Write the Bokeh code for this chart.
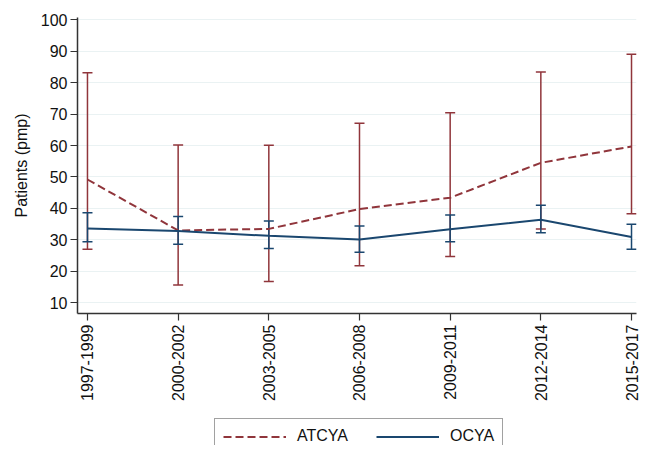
import math
from bokeh.plotting import figure
from bokeh.layouts import column
from bokeh.models import (ColumnDataSource, Whisker, TeeHead, Legend, LegendItem,
                          FixedTicker, Range1d)
from bokeh.embed import file_html
from bokeh.resources import INLINE

categories = ["1997-1999", "2000-2002", "2003-2005", "2006-2008",
              "2009-2011", "2012-2014", "2015-2017"]
atcya_mean = [49.2, 33.0, 33.5, 39.8, 43.4, 54.5, 59.7]
atcya_lower = [27.0, 15.7, 16.8, 21.8, 24.7, 33.5, 38.3]
atcya_upper = [83.1, 60.2, 60.1, 67.1, 70.4, 83.4, 89.0]
ocya_mean = [33.6, 32.8, 31.3, 30.1, 33.4, 36.4, 30.9]
ocya_lower = [29.4, 28.6, 27.3, 26.1, 29.4, 32.3, 27.0]
ocya_upper = [38.6, 37.4, 36.0, 34.4, 37.9, 41.0, 35.0]
y_ticks = [10, 20, 30, 40, 50, 60, 70, 80, 90, 100]
series_names = ["ATCYA", "OCYA"]

MAROON = "#90353b"
NAVY = "#1a476f"
AXIS = "#333333"
FONT = "Liberation Sans"

xs = list(range(len(categories)))
src_a = ColumnDataSource(dict(x=xs, m=atcya_mean, lo=atcya_lower, up=atcya_upper))
src_o = ColumnDataSource(dict(x=xs, m=ocya_mean, lo=ocya_lower, up=ocya_upper))

p = figure(width=641, height=415, output_backend="svg", toolbar_location=None,
           x_range=Range1d(-0.11, 6.055), y_range=Range1d(6.6, 100.7),
           min_border_left=77, min_border_right=5, min_border_top=17,
           min_border_bottom=102)
p.outline_line_color = None
p.background_fill_color = "white"
p.border_fill_color = "white"

# grid
p.xgrid.grid_line_color = None
p.ygrid.grid_line_color = "#eaf2f3"
p.ygrid.grid_line_width = 1.2

# axes
p.xaxis.ticker = FixedTicker(ticks=xs)
p.xaxis.major_label_overrides = {i: c for i, c in enumerate(categories)}
p.xaxis.major_label_orientation = math.pi / 2
p.yaxis.ticker = FixedTicker(ticks=y_ticks)
p.yaxis.axis_label = "Patients (pmp)"
for ax in (p.xaxis, p.yaxis):
    ax.axis_line_color = AXIS
    ax.axis_line_width = 1.5
    ax.major_tick_line_color = AXIS
    ax.major_tick_line_width = 1.2
    ax.major_tick_in = 0
    ax.major_tick_out = 7
    ax.minor_tick_line_color = None
    ax.major_label_text_font = FONT
    ax.major_label_text_font_size = "16px"
    ax.major_label_text_color = "#111111"
    ax.major_label_standoff = 4
p.yaxis.major_label_standoff = 3
p.yaxis.axis_label_text_font = FONT
p.yaxis.axis_label_text_font_size = "16px"
p.yaxis.axis_label_text_font_style = "normal"
p.yaxis.axis_label_text_color = "#111111"
p.yaxis.axis_label_standoff = 8

# ATCYA
p.line("x", "m", source=src_a, line_color=MAROON, line_width=2, line_dash="8 4")
p.add_layout(Whisker(source=src_a, base="x", lower="lo", upper="up",
                     line_color=MAROON, line_width=1.5,
                     upper_head=TeeHead(size=10, line_color=MAROON, line_width=1.5),
                     lower_head=TeeHead(size=10, line_color=MAROON, line_width=1.5)))
# OCYA
p.line("x", "m", source=src_o, line_color=NAVY, line_width=2)
p.add_layout(Whisker(source=src_o, base="x", lower="lo", upper="up",
                     line_color=NAVY, line_width=1.5,
                     upper_head=TeeHead(size=10, line_color=NAVY, line_width=1.5),
                     lower_head=TeeHead(size=10, line_color=NAVY, line_width=1.5)))

# legend strip below the chart (proxy lines lie outside its visible range)
lg = figure(width=641, height=30, output_backend="svg", toolbar_location=None,
            x_axis_type=None, y_axis_type=None,
            x_range=Range1d(0, 1), y_range=Range1d(0, 1),
            min_border_left=0, min_border_right=0, min_border_top=0,
            min_border_bottom=0)
lg.outline_line_color = None
lg.grid.visible = False
la = lg.line(x=xs, y=atcya_mean, line_color=MAROON, line_width=2, line_dash="8 4")
lo = lg.line(x=xs, y=ocya_mean, line_color=NAVY, line_width=2)
legend = Legend(items=[LegendItem(label=series_names[0], renderers=[la]),
                       LegendItem(label=series_names[1], renderers=[lo])],
                location=(137, -9), orientation="horizontal", padding=8,
                spacing=28, glyph_width=63, glyph_height=17, label_height=17,
                label_standoff=11,
                label_text_font=FONT, label_text_font_size="16px",
                label_text_color="#111111", border_line_color="#444444",
                border_line_width=1.5, margin=0)
lg.add_layout(legend)

open("out.html", "w").write(file_html(column(p, lg, spacing=0), INLINE))
